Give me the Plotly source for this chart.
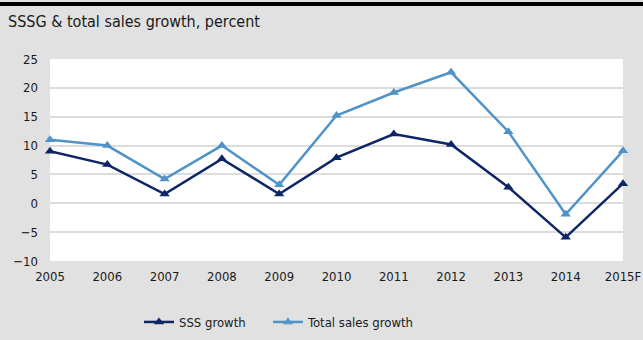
import plotly.graph_objects as go

years = ["2005", "2006", "2007", "2008", "2009", "2010", "2011", "2012", "2013", "2014", "2015F"]
sss_growth = [9.0, 6.7, 1.6, 7.7, 1.6, 7.9, 12.0, 10.2, 2.8, -5.9, 3.4]
total_growth = [11.0, 10.0, 4.2, 10.0, 3.2, 15.2, 19.2, 22.7, 12.4, -1.9, 9.1]
yticks = [-10, -5, 0, 5, 10, 15, 20, 25]

FONT = "DejaVu Sans Condensed, Noto Sans"
fig = go.Figure()
fig.add_trace(go.Scatter(x=years, y=sss_growth, name="SSS growth", mode="lines+markers",
                         line=dict(color="#0e2566", width=2.5),
                         marker=dict(symbol="triangle-up", size=9, color="#0e2566"),
                         cliponaxis=False, legend="legend"))
fig.add_trace(go.Scatter(x=years, y=total_growth, name="Total sales growth", mode="lines+markers",
                         line=dict(color="#4f93c9", width=2.5),
                         marker=dict(symbol="triangle-up", size=9, color="#4f93c9"),
                         cliponaxis=False, legend="legend2"))

leg_common = dict(orientation="h", xanchor="left", y=1 - 322 / 340, yref="container",
                  yanchor="middle", bgcolor="rgba(0,0,0,0)", font=dict(size=13))

fig.update_layout(
    width=643, height=340,
    margin=dict(l=50, r=20, t=59, b=79, autoexpand=False),
    paper_bgcolor="#e1e1e1", plot_bgcolor="#ffffff",
    font=dict(family=FONT, size=13, color="#1a1a1a"),
    title=dict(text="SSSG & total sales growth, percent", x=0, xref="container", xanchor="left",
               y=1, yref="container", yanchor="top", pad=dict(t=16, l=8),
               font=dict(family=FONT, size=16, color="#1a1a1a")),
    showlegend=True,
    legend=dict(x=(139 - 50) / 573, **leg_common),
    legend2=dict(x=(268 - 50) / 573, **leg_common),
    xaxis=dict(type="category", range=[0, len(years) - 1], showgrid=False, zeroline=False,
               showline=False, ticks="", ticklabelstandoff=6, tickfont=dict(size=13)),
    yaxis=dict(range=[-10, 25], tickvals=yticks, showgrid=True, gridcolor="#dcdcdc", gridwidth=2,
               zeroline=False, showline=False, ticks="", ticklabelstandoff=11,
               tickfont=dict(size=13)),
    shapes=[dict(type="rect", xref="paper", yref="paper", x0=-1, x1=2,
                 y0=1 + (59 - 6) / 202, y1=1 + (59 - 2) / 202,
                 fillcolor="#000000", line=dict(width=0), layer="above")],
)
fig.write_html("out.html")
